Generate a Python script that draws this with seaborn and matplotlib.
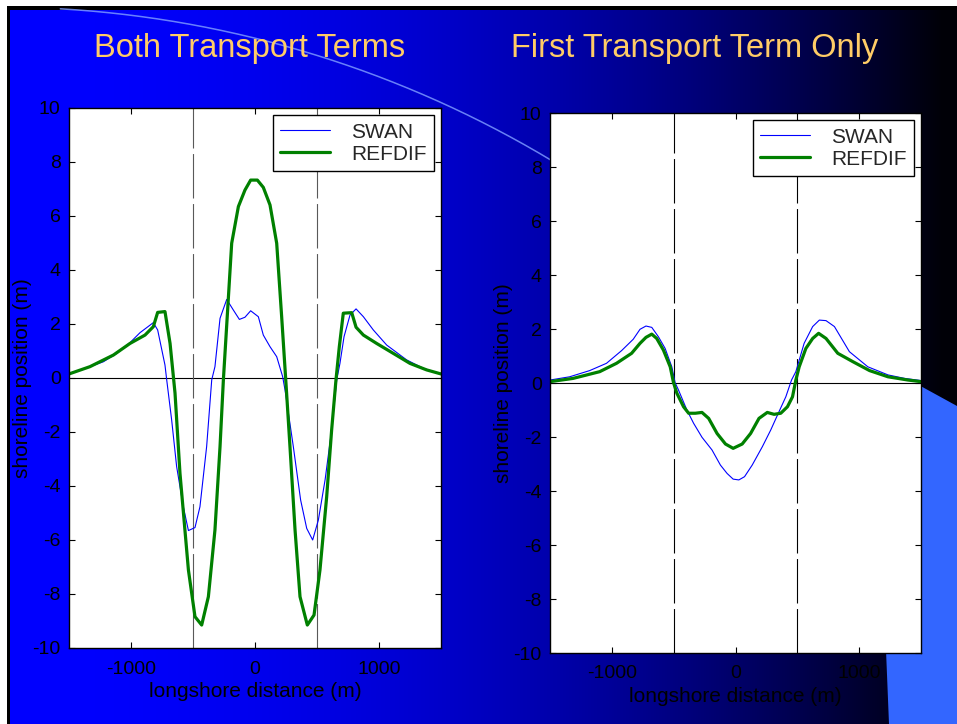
import matplotlib
matplotlib.use('Agg')
import matplotlib.pyplot as plt
from matplotlib.patches import Polygon, Rectangle
import numpy as np
import seaborn as sns

# --- data ---
# left panel: both transport terms
both_swan_x = [-1500, -1331, -1223, -1115, -1008, -927, -820, -785, -726, -712, -672, -632, -578, -537,
               -484, -444, -390, -349, -323, -282, -228, -175, -126, -81, -35, 27, 67, 121, 175, 223,
               242, 309, 368, 417, 465, 511, 565, 618, 659, 685, 718, 766, 815, 874, 954, 1062, 1223,
               1357, 1500]
both_swan_y = [0.15, 0.42, 0.60, 0.91, 1.31, 1.68, 2.05, 1.78, 0.48, -0.07, -1.56, -3.28, -4.77, -5.65,
               -5.54, -4.77, -2.54, -0.07, 0.42, 2.21, 2.91, 2.52, 2.17, 2.25, 2.49, 2.27, 1.59, 1.16,
               0.79, 0.05, -0.44, -2.54, -4.52, -5.57, -6.00, -5.26, -3.78, -1.93, -0.07, 0.54, 1.53,
               2.33, 2.56, 2.27, 1.78, 1.22, 0.67, 0.36, 0.15]
both_refdif_x = [-1500, -1331, -1142, -1008, -887, -820, -785, -726, -685, -645, -605, -537, -484, -430,
                 -376, -323, -282, -255, -188, -134, -81, -35, 19, 67, 121, 175, 215, 255, 282, 323,
                 363, 422, 476, 524, 578, 618, 653, 680, 712, 780, 815, 874, 981, 1116, 1250, 1384, 1500]
both_refdif_y = [0.15, 0.42, 0.85, 1.28, 1.59, 1.90, 2.43, 2.46, 1.28, -0.56, -3.53, -7.11, -8.84, -9.15,
                 -8.10, -5.63, -2.54, -0.07, 4.99, 6.35, 6.96, 7.33, 7.33, 7.06, 6.41, 4.99, 2.27, -0.57,
                 -2.54, -5.63, -8.10, -9.15, -8.78, -7.11, -4.40, -1.93, -0.07, 1.16, 2.40, 2.42, 1.88,
                 1.59, 1.28, 0.91, 0.54, 0.30, 0.15]

# right panel: first transport term only
first_swan_x = [-1500, -1341, -1179, -1043, -921, -827, -772, -724, -677, -623, -569, -515, -488, -461,
                -393, -339, -271, -190, -122, -68, -19, 27, 73, 135, 217, 285, 352, 407, 453, 488, 555,
                624, 678, 732, 800, 921, 1070, 1233, 1368, 1500]
first_swan_y = [0.11, 0.23, 0.46, 0.73, 1.20, 1.62, 1.99, 2.11, 2.06, 1.71, 1.28, 0.60, 0.01, -0.26,
                -1.00, -1.49, -2.01, -2.48, -3.04, -3.35, -3.56, -3.59, -3.47, -3.04, -2.36, -1.74,
                -1.06, -0.51, 0.11, 0.42, 1.47, 2.09, 2.33, 2.31, 2.09, 1.16, 0.60, 0.30, 0.17, 0.09]
first_refdif_x = [-1500, -1314, -1098, -962, -840, -772, -724, -677, -637, -583, -528, -501, -474, -420,
                  -379, -325, -271, -217, -149, -81, -19, 54, 122, 190, 257, 312, 366, 420, 461, 488,
                  515, 569, 624, 672, 732, 827, 949, 1084, 1233, 1395, 1500]
first_refdif_y = [0.05, 0.17, 0.42, 0.73, 1.10, 1.47, 1.69, 1.81, 1.65, 1.22, 0.60, 0.01, -0.38, -0.88,
                  -1.12, -1.12, -1.09, -1.31, -1.87, -2.26, -2.42, -2.26, -1.87, -1.31, -1.09, -1.16,
                  -1.12, -0.88, -0.51, 0.11, 0.60, 1.28, 1.65, 1.84, 1.65, 1.10, 0.79, 0.46, 0.23,
                  0.11, 0.05]

panel_titles = ['Both Transport Terms', 'First Transport Term Only']
series_names = ['SWAN', 'REFDIF']
structure_edges = [-500, 500]
x_ticks = [-1000, 0, 1000]
y_ticks = list(range(-10, 11, 2))

sns.set_style('ticks')
plt.rcParams['font.family'] = ['Liberation Sans', 'DejaVu Sans']
plt.rcParams['axes.unicode_minus'] = False

W, H = 957, 724
fig = plt.figure(figsize=(W / 100, H / 100), dpi=100, facecolor='white')

# --- slide background (pixel coords) ---
bg = fig.add_axes([0, 0, 1, 1])
bg.axis('off')
bg.add_patch(Rectangle((7, 6), W, H, facecolor='black', edgecolor='none'))
xx = np.linspace(0, 1, 400)
blue = np.clip(1 - xx ** 2, 0.03, 1)
grad = np.zeros((2, 400, 3))
grad[:, :, 2] = blue
bg.imshow(grad, extent=(10, W, H, 10), aspect='auto', interpolation='bilinear', zorder=1)
t = np.linspace(0.058, 0.56, 200)
bg.plot(-2 + 1075 * np.sin(t), 1082 - 1075 * np.cos(t), color='#7b98ff', lw=1.1, alpha=0.85, zorder=2)
bg.add_patch(Polygon([(895, 372), (W, 406), (W, H), (889, H), (886, 650)], closed=True,
                     facecolor='#3366ff', edgecolor='none', zorder=2))
bg.set_xlim(0, W)
bg.set_ylim(H, 0)

for cx, title in zip([250, 695], panel_titles):
    fig.text(cx / W, 1 - 48 / H, title, color='#ffcc66', fontsize=23.5, ha='center', va='center')

# --- panels ---
panels = [
    ([69, 108, 372, 540], both_swan_x, both_swan_y, both_refdif_x, both_refdif_y, '0.35'),
    ([550, 113, 371, 540], first_swan_x, first_swan_y, first_refdif_x, first_refdif_y, 'black'),
]

for (px, py, pw, ph), sx, sy, rx, ry, dash_col in panels:
    ax = fig.add_axes([px / W, 1 - (py + ph) / H, pw / W, ph / H])
    ax.set_facecolor('white')
    sns.lineplot(x=sx, y=sy, ax=ax, color='#0000ff', lw=0.8, label=series_names[0])
    sns.lineplot(x=rx, y=ry, ax=ax, color='#008000', lw=2.3, label=series_names[1])
    ax.axhline(0, color='black', lw=0.8, zorder=1)
    for xe in structure_edges:
        ax.axvline(xe, color=dash_col, lw=0.8, dashes=(40, 5), zorder=1)
    ax.set_xlim(-1500, 1500)
    ax.set_ylim(-10, 10)
    ax.set_xticks(x_ticks)
    ax.set_yticks(y_ticks)
    ax.tick_params(direction='in', top=True, right=True, length=4.5, width=0.8,
                   labelsize=14, colors='black', pad=6)
    ax.tick_params(axis='x', pad=9)
    for sp in ax.spines.values():
        sp.set_color('black')
        sp.set_linewidth(1.0)
    ax.set_xlabel('longshore distance (m)', fontsize=15, color='black', labelpad=3)
    ax.set_ylabel('shoreline position (m)', fontsize=15, color='black', labelpad=0)
    leg = ax.legend(loc='upper right', fontsize=15, frameon=True, fancybox=False, framealpha=1,
                    edgecolor='black', handlelength=2.4, handletextpad=1.0, borderpad=0.35,
                    borderaxespad=0.35, labelspacing=0.15)
    leg.get_frame().set_linewidth(1.0)

fig.savefig('out.png', dpi=100, facecolor=fig.get_facecolor())
